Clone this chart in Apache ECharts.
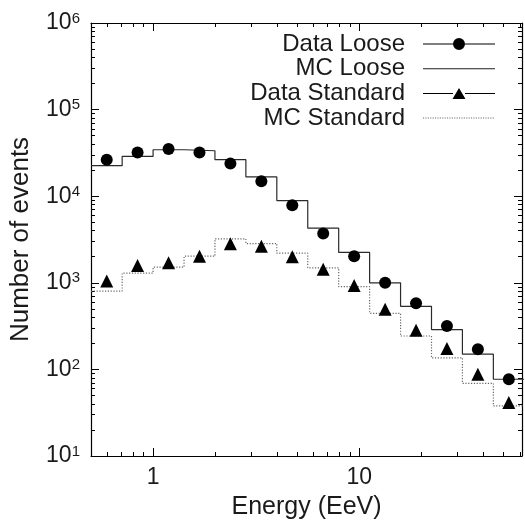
<!DOCTYPE html>
<html><head><meta charset="utf-8">
<script src="https://cdn.jsdelivr.net/npm/echarts@6/dist/echarts.min.js"></script>
<style>html,body{margin:0;padding:0;background:#fff}#c{width:525px;height:525px}</style>
</head><body><div id="c"></div>
<script>
// Energy bins (EeV): edges and centres (log-spaced)
const binEdges   = [0.5, 0.708, 1.0, 1.413, 1.995, 2.818, 3.981, 5.623, 7.943, 11.22, 15.85, 22.39, 31.62, 44.67, 63.1];
const binCenters = [0.596, 0.841, 1.189, 1.679, 2.371, 3.350, 4.732, 6.683, 9.441, 13.34, 18.84, 26.61, 37.58, 53.09];

const dataLoose    = [26400, 32000, 35100, 32000, 23900, 14900, 7860, 3710, 2030, 1000, 580, 317, 171, 77];
const mcLoose      = [22500, 28800, 34400, 33500, 26400, 16700, 8900, 4270, 2240, 1000, 535, 288, 150, 77];
const dataStandard = [1047, 1585, 1706, 2030, 2820, 2650, 2000, 1430, 933, 494, 283, 174, 88, 41.6];
const mcStandard   = [803, 1294, 1517, 2030, 3220, 2840, 2200, 1490, 902, 444, 243, 136, 69, 38];

const seriesNames = ['Data Loose', 'MC Loose', 'Data Standard', 'MC Standard'];

const xMajorTicks = [1, 10];
const xTickLabels = ['1', '10'];
const xMinorTicks = [0.6, 0.7, 0.8, 0.9, 2, 3, 4, 5, 6, 7, 8, 9, 20, 30, 40, 50, 60];
const yMajorTicks = [10, 100, 1000, 10000, 100000, 1000000];
const yTickExponents = ['1', '2', '3', '4', '5', '6'];
const yMinorTicks = [20,30,40,50,60,70,80,90,200,300,400,500,600,700,800,900,
  2000,3000,4000,5000,6000,7000,8000,9000,20000,30000,40000,50000,60000,70000,80000,90000,
  200000,300000,400000,500000,600000,700000,800000,900000];

const FONT = '"Liberation Sans", Arial, Helvetica, sans-serif';
const TXT = '#1a1a1a';
const X_MIN = 0.5, X_MAX = 61.5, Y_MIN = 10, Y_MAX = 1000000;

function stepData(vals) {
  const out = vals.map((v, i) => [binEdges[i], v]);
  out.push([binEdges[vals.length], vals[vals.length - 1]]);
  return out;
}
function pointData(vals) { return vals.map((v, i) => [binCenters[i], v]); }

function xAx(position, ticks, len, labels, line) {
  return {
    type: 'log', logBase: 10, position: position, min: X_MIN, max: X_MAX, gridIndex: 0,
    axisLine: { show: line, lineStyle: { color: '#000', width: 1.2 } },
    axisTick: { show: true, inside: true, length: len, customValues: ticks, lineStyle: { color: '#000', width: 1 } },
    axisLabel: labels ? {
      show: true, customValues: xMajorTicks, margin: 10, fontSize: 23, fontFamily: FONT, color: TXT,
      formatter: v => xTickLabels[xMajorTicks.findIndex(t => Math.abs(t - v) / t < 1e-6)] ?? ''
    } : { show: false },
    splitLine: { show: false }, minorTick: { show: false }
  };
}
function yAx(position, ticks, len, labels, line) {
  return {
    type: 'log', logBase: 10, position: position, min: Y_MIN, max: Y_MAX, gridIndex: 0,
    axisLine: { show: line, lineStyle: { color: '#000', width: 1.2 } },
    axisTick: { show: true, inside: true, length: len, customValues: ticks, lineStyle: { color: '#000', width: 1 } },
    axisLabel: labels ? {
      show: true, customValues: yMajorTicks, margin: 11, fontFamily: FONT, color: TXT,
      formatter: v => {
        const i = yMajorTicks.findIndex(t => Math.abs(t - v) / t < 1e-6);
        return i < 0 ? '' : '{b|10}{s|' + yTickExponents[i] + '}';
      },
      rich: {
        b: { fontSize: 23, lineHeight: 24, fontFamily: FONT, color: TXT },
        s: { fontSize: 15, lineHeight: 16, verticalAlign: 'top', fontFamily: FONT, color: TXT }
      }
    } : { show: false },
    splitLine: { show: false }, minorTick: { show: false }
  };
}

// legend icons (72 x 12 boxes)
const dotsBox = ' M0,0H0.01V0.01H0Z M72,12H71.99V11.99H72Z';
const iconCircle = 'path://M0,5.5H30V6.5H0Z M42,5.5H72V6.5H42Z M30,6A6,6 0 1,1 42,6A6,6 0 1,1 30,6Z' + dotsBox;
const iconLine = 'path://M0,5.5H72V6.5H0Z' + dotsBox;
const iconTri = 'path://M0,5.5H30V6.5H0Z M42,5.5H72V6.5H42Z M36,0.5L42.5,11.5H29.5Z' + dotsBox;
let dotted = 'path://';
for (let x = 0; x < 72; x += 2.4) dotted += 'M' + x.toFixed(2) + ',5.5h1.1v1h-1.1Z ';
dotted += dotsBox;

const option = {
  animation: false,
  backgroundColor: '#fff',
  grid: { left: 91, right: 3, top: 23, bottom: 68, containLabel: false },
  xAxis: [
    Object.assign(xAx('bottom', xMajorTicks, 8, true, true), {
      name: 'Energy (EeV)', nameLocation: 'middle', nameGap: 39,
      nameTextStyle: { fontSize: 25, fontFamily: FONT, color: TXT }
    }),
    xAx('bottom', xMinorTicks, 4, false, false),
    xAx('top', xMajorTicks, 8, false, true),
    xAx('top', xMinorTicks, 4, false, false)
  ],
  yAxis: [
    Object.assign(yAx('left', yMajorTicks, 8, true, true), {
      name: 'Number of events', nameLocation: 'middle', nameGap: 57, nameRotate: 90,
      nameTextStyle: { fontSize: 26, fontFamily: FONT, color: TXT }
    }),
    yAx('left', yMinorTicks, 4, false, false),
    yAx('right', yMajorTicks, 8, false, true),
    yAx('right', yMinorTicks, 4, false, false)
  ],
  legend: {
    orient: 'vertical', align: 'right', right: 30, top: 32, padding: 0,
    itemWidth: 72, itemHeight: 12, itemGap: 0.7,
    textStyle: { fontSize: 24, lineHeight: 24, fontFamily: FONT, color: TXT, padding: [0, 13, 0, 0] },
    itemStyle: { borderWidth: 0, opacity: 1 },
    selectedMode: false,
    data: [
      { name: seriesNames[0], icon: iconCircle, itemStyle: { color: '#000', borderWidth: 0, opacity: 1 } },
      { name: seriesNames[1], icon: iconLine, itemStyle: { color: '#222', borderWidth: 0, opacity: 1 } },
      { name: seriesNames[2], icon: iconTri, itemStyle: { color: '#000', borderWidth: 0, opacity: 1 } },
      { name: seriesNames[3], icon: dotted, itemStyle: { color: '#666', borderWidth: 0, opacity: 1 } }
    ]
  },
  series: [
    { name: seriesNames[1], type: 'line', step: 'end', data: stepData(mcLoose), symbol: 'none', clip: true,
      lineStyle: { color: '#2a2a2a', width: 1.2 }, itemStyle: { color: '#2a2a2a' }, z: 2 },
    { name: seriesNames[3], type: 'line', step: 'end', data: stepData(mcStandard), symbol: 'none', clip: true,
      lineStyle: { color: '#666', width: 1.2, type: [1.2, 1.6] }, itemStyle: { color: '#666' }, z: 2 },
    { name: seriesNames[0], type: 'scatter', data: pointData(dataLoose), symbol: 'circle', symbolSize: 12,
      itemStyle: { color: '#000', opacity: 1 }, z: 3 },
    { name: seriesNames[2], type: 'scatter', data: pointData(dataStandard), symbol: 'triangle', symbolSize: 13,
      itemStyle: { color: '#000', opacity: 1 }, z: 3 }
  ]
};
const chart = echarts.init(document.getElementById('c'));
chart.setOption(option);
</script></body></html>
